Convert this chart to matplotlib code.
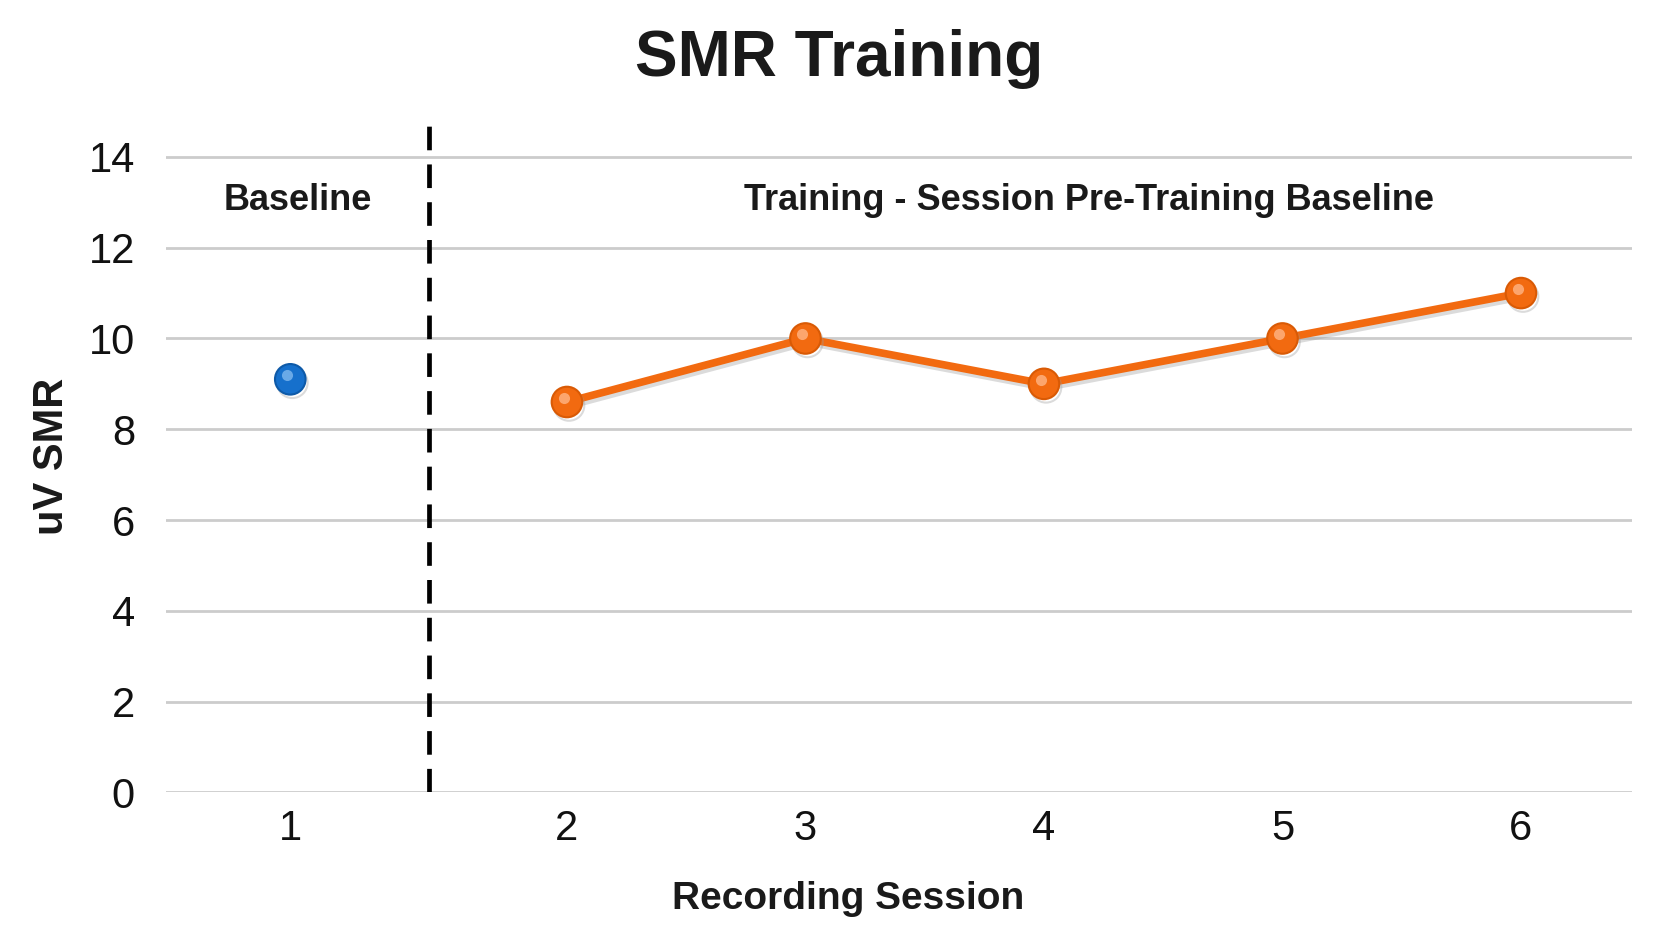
import matplotlib
matplotlib.use('Agg')
import matplotlib.pyplot as plt
import matplotlib.transforms as mtransforms
import matplotlib.patheffects as pe

# data
baseline_session = ['1']
baseline_uv = [9.1]
training_sessions = ['2', '3', '4', '5', '6']
training_uv = [8.6, 10.0, 9.0, 10.0, 11.0]

# layout: training sessions sit after a wider gap following the baseline
gap = 1.16
x_base = [0.0]
x_train = [gap + i for i in range(len(training_sessions))]
x_split = 0.58

narrow = ['Liberation Sans Narrow', 'Liberation Sans', 'DejaVu Sans']
sans = ['Liberation Sans', 'DejaVu Sans']

fig = plt.figure(figsize=(16.72, 9.41), dpi=100)
ax = fig.add_axes([0.099, 0.158, 0.877, 0.709])

for y in range(0, 15, 2):
    ax.axhline(y, color='#cccccc', lw=2, zorder=1)

ax.axvline(x_split, color='black', lw=3.4, ls=(0, (5, 3)), zorder=2)

shadow = [pe.SimpleLineShadow(offset=(1.5, -2.5), shadow_color='#999999', alpha=0.35),
          pe.Normal()]

ax.plot(x_train, training_uv, color='#F26A10', lw=5.5, marker='o', ms=22,
        mfc='#F26A10', mec='#D95A05', mew=1.5, zorder=4, path_effects=shadow)
ax.plot(x_base, baseline_uv, ls='none', marker='o', ms=22,
        mfc='#1670CC', mec='#0E5AA8', mew=1.5, zorder=4, path_effects=shadow)

# small highlight on the balls
hl = ax.transData + mtransforms.ScaledTranslation(-3 / 100, 4 / 100, fig.dpi_scale_trans)
ax.plot(x_train, training_uv, ls='none', marker='o', ms=8, mfc='#FFB585',
        mec='none', alpha=0.8, transform=hl, zorder=5)
ax.plot(x_base, baseline_uv, ls='none', marker='o', ms=8, mfc='#7FB8EE',
        mec='none', alpha=0.8, transform=hl, zorder=5)

ax.set_xlim(-0.523, gap + 4 + 0.465)
ax.set_ylim(0, 14.7)
ax.set_yticks(range(0, 15, 2))
ax.set_xticks(x_base + x_train)
ax.set_xticklabels(baseline_session + training_sessions)
for s in ax.spines.values():
    s.set_visible(False)
ax.tick_params(length=0, pad=12)
ax.tick_params(axis='y', pad=22)
for lab in ax.get_xticklabels() + ax.get_yticklabels():
    lab.set_fontfamily(narrow)
    lab.set_fontsize(30)
    lab.set_color('#111111')

ax.text(0.03, 13.05, 'Baseline', ha='center', va='center', fontsize=26,
        fontweight='bold', family=sans, color='#1a1a1a')
ax.text(3.35, 13.05, 'Training - Session Pre-Training Baseline', ha='center',
        va='center', fontsize=26, fontweight='bold', family=sans, color='#1a1a1a')

fig.text(0.502, 0.937, 'SMR Training', ha='center', va='center', fontsize=46,
         fontweight='bold', family=sans, color='#1a1a1a')
fig.text(0.507, 0.045, 'Recording Session', ha='center', va='center', fontsize=28,
         fontweight='bold', family=sans, color='#1a1a1a')
fig.text(0.031, 0.515, 'uV SMR', ha='center', va='center', rotation=90, fontsize=30,
         fontweight='bold', family=sans, color='#1a1a1a')

fig.savefig('out.png', dpi=100, facecolor='white')
plt.close(fig)
